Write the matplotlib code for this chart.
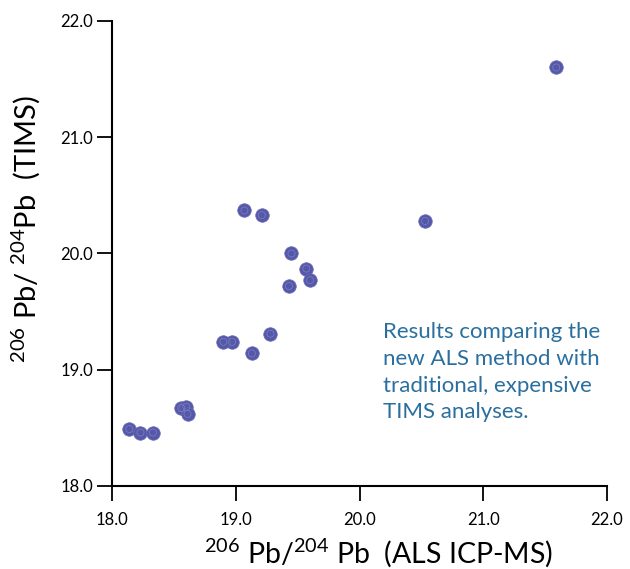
import matplotlib
matplotlib.use("Agg")
import matplotlib.pyplot as plt

# ALS ICP-MS vs TIMS, 206Pb/204Pb
als_icpms = [21.59, 19.07, 19.21, 20.53, 19.45, 19.57, 19.60, 19.43, 19.28,
             18.97, 18.90, 19.13, 18.56, 18.60, 18.61, 18.14, 18.23, 18.33]
tims = [21.60, 20.37, 20.33, 20.28, 20.00, 19.87, 19.77, 19.72, 19.31,
        19.24, 19.24, 19.14, 18.67, 18.68, 18.62, 18.49, 18.46, 18.46]
ticks = [18.0, 19.0, 20.0, 21.0, 22.0]
tick_labels = ["18.0", "19.0", "20.0", "21.0", "22.0"]
note = "Results comparing the\nnew ALS method with\ntraditional, expensive\nTIMS analyses."

plt.rcParams['font.family'] = ['Lato', 'DejaVu Sans']
plt.rcParams['mathtext.fontset'] = 'custom'
plt.rcParams['mathtext.rm'] = 'Lato'

fig = plt.figure(figsize=(6.3, 5.69), dpi=100)
ax = fig.add_axes([0.1778, 0.1459, 0.7857, 0.8172])

ax.scatter(als_icpms, tims, s=95, color='#5558a8', edgecolors='#6a6cb5',
           linewidths=0.5, zorder=3, clip_on=False)
ax.scatter(als_icpms, tims, s=26, facecolors='none', edgecolors='#7f81c2',
           linewidths=0.5, zorder=4, clip_on=False)

ax.set_xlim(18, 22)
ax.set_ylim(18, 22)
ax.set_xticks(ticks)
ax.set_xticklabels(tick_labels)
ax.set_yticks(ticks)
ax.set_yticklabels(tick_labels)

for side in ['top', 'right']:
    ax.spines[side].set_visible(False)
ax.spines['left'].set_linewidth(1.5)
ax.spines['bottom'].set_linewidth(1.5)

ax.tick_params(axis='x', direction='out', length=10.5, width=1.3, labelsize=12, pad=8)
ax.tick_params(axis='y', direction='out', length=10.5, width=1.3, labelsize=12, pad=3)

ax.set_xlabel(r'$^{206}$ Pb/$^{204}$ Pb  (ALS ICP-MS)', fontsize=20.5)
ax.set_ylabel(r'$^{206}$ Pb/ $^{204}$Pb  (TIMS)', fontsize=21)
ax.xaxis.set_label_coords(0.539, -0.108)
ax.yaxis.set_label_coords(-0.139, 0.553)

ax.text(0.548, 0.352, note, transform=ax.transAxes, fontsize=16,
        color='#2a6f9e', linespacing=1.42, va='top', ha='left')

fig.savefig('out.png', dpi=100)
